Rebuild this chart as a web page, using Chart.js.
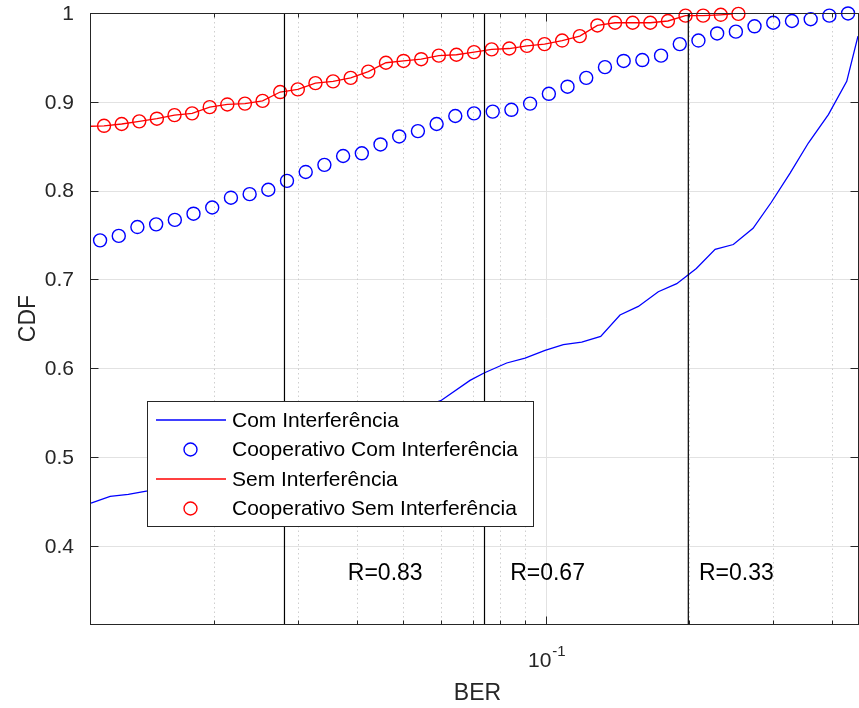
<!DOCTYPE html>
<html>
<head>
<meta charset="utf-8">
<script src="https://cdn.jsdelivr.net/npm/chart.js@4.4.0/dist/chart.umd.min.js"></script>
<style>
  html, body { margin: 0; padding: 0; background: #fff; }
</style>
</head>
<body>
<canvas id="cdfChart" width="859" height="708"></canvas>
<script>
// values (x = BER, y = CDF)
const berComInt = [0.0110, 0.01207, 0.01318, 0.01448, 0.02378, 0.03861, 0.05993, 0.06908, 0.07393, 0.08252,
    0.09020, 0.09938, 0.10858, 0.11869, 0.13014, 0.14291, 0.15619, 0.17207, 0.18816, 0.20691,
    0.22662, 0.24752, 0.27238, 0.29765, 0.32593, 0.35608, 0.39242, 0.42894, 0.4530];
const cdfComInt = [0.448, 0.4556, 0.4579, 0.462, 0.491, 0.528, 0.5634, 0.5863, 0.5946, 0.6059,
    0.6115, 0.6200, 0.6265, 0.6295, 0.6358, 0.6599, 0.6696, 0.6861, 0.6952, 0.7123,
    0.7339, 0.7393, 0.7575, 0.7869, 0.8198, 0.8536, 0.8855, 0.9230, 0.9740];

const berCoopCom = [0.011495, 0.012585, 0.013774, 0.015085, 0.016515, 0.018080, 0.019796, 0.021677, 0.023734, 0.025982,
    0.028446, 0.031148, 0.034100, 0.037337, 0.040883, 0.044757, 0.049004, 0.053658, 0.058750, 0.064317,
    0.070424, 0.077111, 0.084413, 0.092426, 0.10123, 0.11081, 0.12134, 0.13286, 0.14548, 0.15924,
    0.17437, 0.19093, 0.20902, 0.22888, 0.25061, 0.27432, 0.30037, 0.32890, 0.36017, 0.39423, 0.43165];
const cdfCoopCom = [0.744, 0.749, 0.759, 0.762, 0.767, 0.774, 0.781, 0.792, 0.796, 0.801,
    0.811, 0.821, 0.829, 0.839, 0.842, 0.852, 0.861, 0.867, 0.875, 0.884,
    0.887, 0.889, 0.891, 0.898, 0.909, 0.917, 0.927, 0.939, 0.946, 0.947,
    0.952, 0.965, 0.969, 0.977, 0.979, 0.985, 0.989, 0.991, 0.993, 0.997, 0.9995];

const berSemInt = [0.0110, 0.011718, 0.012763, 0.013900, 0.015139, 0.016488, 0.017958, 0.019557, 0.021300, 0.023198,
    0.025270, 0.027521, 0.029975, 0.032650, 0.035563, 0.038736, 0.042189, 0.045952, 0.050050, 0.054513,
    0.059376, 0.064672, 0.070436, 0.076720, 0.083560, 0.091010, 0.099129, 0.10797, 0.11760, 0.12809,
    0.13951, 0.15196, 0.16551, 0.18027, 0.19634, 0.21385, 0.23293, 0.2472];
const cdfSemInt = [0.8725, 0.873, 0.875, 0.878, 0.881, 0.885, 0.887, 0.894, 0.897, 0.898,
    0.901, 0.911, 0.914, 0.921, 0.923, 0.927, 0.934, 0.944, 0.946, 0.948,
    0.952, 0.953, 0.956, 0.959, 0.960, 0.963, 0.965, 0.969, 0.974, 0.986,
    0.989, 0.989, 0.989, 0.991, 0.997, 0.997, 0.998, 0.999];

const berCoopSem = [0.011718, 0.012763, 0.013900, 0.015139, 0.016488, 0.017958, 0.019557, 0.021300, 0.023198, 0.025270,
    0.027521, 0.029975, 0.032650, 0.035563, 0.038736, 0.042189, 0.045952, 0.050050, 0.054513, 0.059376,
    0.064672, 0.070436, 0.076720, 0.083560, 0.091010, 0.099129, 0.10797, 0.11760, 0.12809, 0.13951,
    0.15196, 0.16551, 0.18027, 0.19634, 0.21385, 0.23293, 0.25370];
const cdfCoopSem = [0.873, 0.875, 0.878, 0.881, 0.885, 0.887, 0.894, 0.897, 0.898, 0.901,
    0.911, 0.914, 0.921, 0.923, 0.927, 0.934, 0.944, 0.946, 0.948, 0.952,
    0.953, 0.956, 0.959, 0.960, 0.963, 0.965, 0.969, 0.974, 0.986, 0.989,
    0.989, 0.989, 0.991, 0.997, 0.997, 0.998, 0.999];

// code-rate markers
const rateBer = [0.0281, 0.0741, 0.199];
const rateLabels = ["R=0.83", "R=0.67", "R=0.33"];
const rateLabelBer = [0.0382, 0.0839, 0.2096];
const rateLabelCdf = 0.37;

// axes
const xMajorTicks = [0.1];
const xMinorTicks = [0.02, 0.03, 0.04, 0.05, 0.06, 0.07, 0.08, 0.09, 0.2, 0.3, 0.4];
const yTicks = [0.4, 0.5, 0.6, 0.7, 0.8, 0.9, 1];
const yTickLabels = ["0.4", "0.5", "0.6", "0.7", "0.8", "0.9", "1"];

const FONT = '"Liberation Sans", Arial, Helvetica, sans-serif';
const INK = "#262626";

function pts(xs, ys) {
    return xs.map((x, i) => ({ x: x, y: ys[i] }));
}

function hline(ctx, x0, x1, y) {
    ctx.beginPath(); ctx.moveTo(x0, y); ctx.lineTo(x1, y); ctx.stroke();
}
function vline(ctx, x, y0, y1) {
    ctx.beginPath(); ctx.moveTo(x, y0); ctx.lineTo(x, y1); ctx.stroke();
}

const matlabAxes = {
    id: "matlabAxes",
    beforeDatasetsDraw(chart) {
        const { ctx, chartArea: a, scales: { x, y } } = chart;
        ctx.save();
        ctx.lineWidth = 1;
        ctx.strokeStyle = "#e2e2e2";
        yTicks.forEach(v => hline(ctx, a.left, a.right, Math.round(y.getPixelForValue(v)) + 0.5));
        xMajorTicks.forEach(v => vline(ctx, Math.round(x.getPixelForValue(v)) + 0.5, a.top, a.bottom));
        ctx.strokeStyle = "#cfcfcf";
        ctx.setLineDash([1.5, 3]);
        xMinorTicks.forEach(v => vline(ctx, Math.round(x.getPixelForValue(v)) + 0.5, a.top, a.bottom));
        ctx.restore();
    },
    afterDatasetsDraw(chart) {
        const { ctx, chartArea: a, scales: { x, y } } = chart;
        ctx.save();
        ctx.strokeStyle = INK;
        ctx.lineWidth = 1;
        const L = a.left - 0.5, R = a.right + 0.5, T = a.top + 0.5, B = a.bottom + 0.5;
        ctx.strokeRect(L, T, R - L, B - T);

        // tick marks
        yTicks.forEach(v => {
            const py = Math.round(y.getPixelForValue(v)) + 0.5;
            hline(ctx, L, L + 8, py);
            hline(ctx, R - 8, R, py);
        });
        xMajorTicks.forEach(v => {
            const px = Math.round(x.getPixelForValue(v)) + 0.5;
            vline(ctx, px, B, B - 8);
            vline(ctx, px, T, T + 8);
        });
        xMinorTicks.forEach(v => {
            const px = Math.round(x.getPixelForValue(v)) + 0.5;
            vline(ctx, px, B, B - 4);
            vline(ctx, px, T, T + 4);
        });

        // tick labels
        ctx.fillStyle = INK;
        ctx.font = "21px " + FONT;
        ctx.textAlign = "right";
        ctx.textBaseline = "middle";
        yTicks.forEach((v, i) => ctx.fillText(yTickLabels[i], 74, y.getPixelForValue(v) + 1));

        xMajorTicks.forEach(v => {
            const px = x.getPixelForValue(v);
            ctx.textBaseline = "alphabetic";
            ctx.font = "21px " + FONT;
            const w1 = ctx.measureText("10").width;
            ctx.font = "15px " + FONT;
            const w2 = ctx.measureText("-1").width;
            const x0 = px - (w1 + w2) / 2;
            ctx.textAlign = "left";
            ctx.font = "21px " + FONT;
            ctx.fillText("10", x0, 667);
            ctx.font = "15px " + FONT;
            ctx.fillText("-1", x0 + w1 + 1, 656);
        });

        // axis titles
        ctx.font = "23px " + FONT;
        ctx.textAlign = "center";
        ctx.textBaseline = "alphabetic";
        ctx.fillText("BER", (a.left + a.right) / 2 + 3, 700);
        ctx.save();
        ctx.translate(35, (a.top + a.bottom) / 2);
        ctx.rotate(-Math.PI / 2);
        ctx.fillText("CDF", 0, 0);
        ctx.restore();

        // rate annotations
        ctx.fillStyle = "#000";
        ctx.font = "23px " + FONT;
        ctx.textAlign = "left";
        ctx.textBaseline = "middle";
        rateLabels.forEach((t, i) => {
            ctx.fillText(t, x.getPixelForValue(rateLabelBer[i]), y.getPixelForValue(rateLabelCdf) + 1);
        });

        // legend box
        const lg = { x: 148, y: 402, w: 385, h: 124 };
        ctx.fillStyle = "#fff";
        ctx.fillRect(lg.x, lg.y, lg.w, lg.h);
        ctx.strokeStyle = INK;
        ctx.strokeRect(lg.x - 0.5, lg.y - 0.5, lg.w + 1, lg.h + 1);
        const rows = [420, 449.5, 479, 508.5];
        const entries = chart.data.datasets.filter(d => d.inLegend).sort((p, q) => p.legendPos - q.legendPos);
        ctx.font = "21px " + FONT;
        ctx.textBaseline = "middle";
        entries.forEach((d, i) => {
            const ry = rows[i];
            ctx.strokeStyle = d.borderColor;
            if (d.showLine) {
                ctx.lineWidth = 1.3;
                hline(ctx, 156, 226, ry);
            } else {
                ctx.lineWidth = 1.4;
                ctx.beginPath();
                ctx.arc(190.5, ry, 6.5, 0, Math.PI * 2);
                ctx.stroke();
            }
            ctx.fillStyle = "#000";
            ctx.fillText(d.label, 232, ry + 1);
        });
        ctx.restore();
    }
};

const lineStyle = { showLine: true, pointRadius: 0, borderWidth: 1.3, tension: 0, clip: false };
const markStyle = { showLine: false, pointRadius: 6.5, pointBorderWidth: 1.4, pointStyle: "circle",
    backgroundColor: "rgba(0,0,0,0)", clip: false };

const rateLines = rateBer.map(b => ({
    label: "", data: [{ x: b, y: 0.312 }, { x: b, y: 1 }],
    showLine: true, pointRadius: 0, borderColor: "#000", borderWidth: 1.2, inLegend: false
}));

new Chart(document.getElementById("cdfChart"), {
    type: "scatter",
    data: {
        datasets: [
            ...rateLines,
            Object.assign({ label: "Cooperativo Sem Interferência", data: pts(berCoopSem, cdfCoopSem),
                borderColor: "#ff0000", inLegend: true, legendPos: 3 }, markStyle),
            Object.assign({ label: "Sem Interferência", data: pts(berSemInt, cdfSemInt),
                borderColor: "#ff0000", inLegend: true, legendPos: 2 }, lineStyle),
            Object.assign({ label: "Cooperativo Com Interferência", data: pts(berCoopCom, cdfCoopCom),
                borderColor: "#0000ff", inLegend: true, legendPos: 1 }, markStyle),
            Object.assign({ label: "Com Interferência", data: pts(berComInt, cdfComInt),
                borderColor: "#0000ff", inLegend: true, legendPos: 0 }, lineStyle),
        ],
    },
    options: {
        responsive: false,
        animation: false,
        events: [],
        layout: { autoPadding: false, padding: { left: 91, right: 1, top: 13, bottom: 84 } },
        plugins: { legend: { display: false }, tooltip: { enabled: false } },
        scales: {
            x: { type: "logarithmic", min: 0.011, max: 0.453, display: false },
            y: { type: "linear", min: 0.312, max: 1, display: false },
        },
    },
    plugins: [matlabAxes],
});
</script>
</body>
</html>
